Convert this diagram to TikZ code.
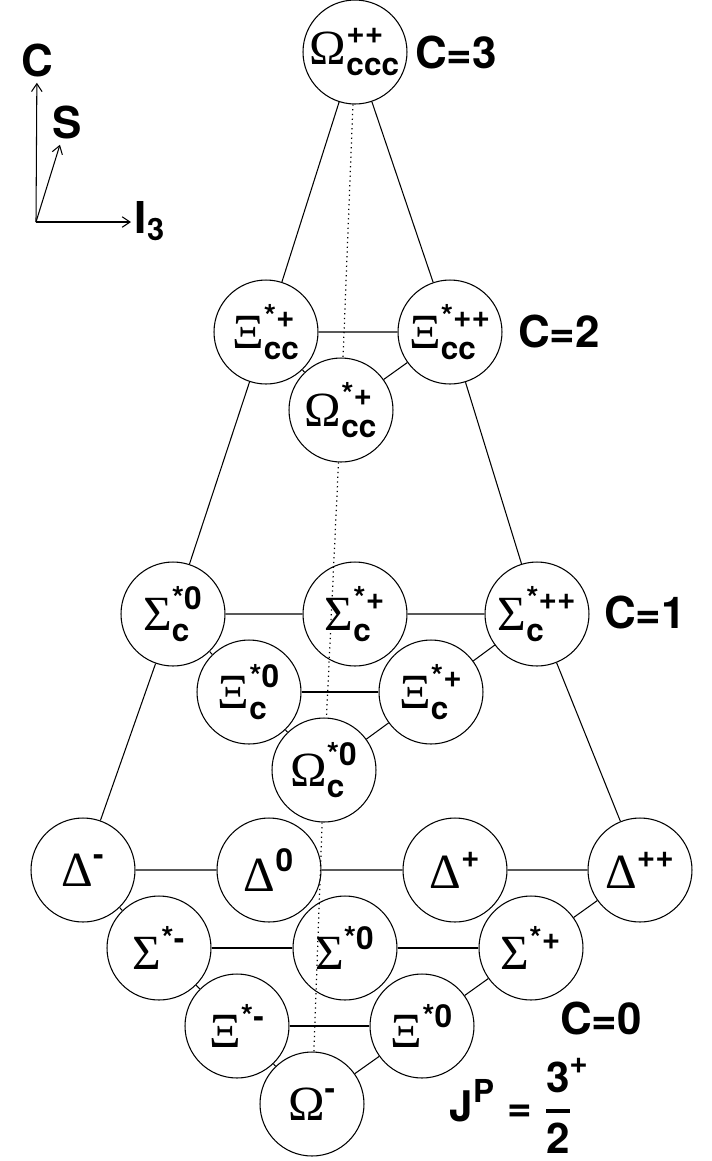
\documentclass[tikz,border=0pt]{standalone}
\usepackage{amsmath, mathtools}
\usepackage{fontspec}
\setmainfont{TeX Gyre Heros}
\newfontfamily\grk{Liberation Serif}
\DeclareMathSizes{24}{24}{18}{13}
\usetikzlibrary{arrows.meta}
\tikzset{hadron/.style={circle, draw, fill=white, line width=0.6pt, minimum size=2.08cm, inner sep=0pt, font=\fontsize{24}{28}\selectfont\bfseries}}
\tikzset{charm/.style={font=\fontsize{25}{30}\selectfont\bfseries}}
\tikzset{link/.style={line width=0.6pt}, omline/.style={line width=0.7pt, dotted}}
\tikzset{axis/.style={line width=0.6pt, -{Straight Barb[length=4.5pt,width=6pt]}}}
\newcommand{\grkl}[1]{\text{\grk\mdseries\fontsize{28}{28}\selectfont #1}}
\newcommand{\had}[3]{$\grkl{#1}^{\text{#2}}_{\text{#3}}$}
\newcommand{\hadn}[2]{$\grkl{#1}^{\text{#2}}$}

\begin{document}
\begin{tikzpicture}[x=0.02cm, y=-0.02cm]
\useasboundingbox (0,0) rectangle (711,1161);
% axes
\coordinate (origin) at (36,222);
\node[charm] (axC) at (37,60) {C};
\node[charm] (axS) at (67,122) {S};
\node[charm, anchor=base west, inner sep=2pt] (axI) at (131,233) {$\text{I}_{\text{3}}$};
\draw[axis] (origin) -- (axC);
\draw[axis] (origin) -- (axS);
\draw[axis] (origin) -- (origin -| axI.west);
% C=3
\node[hadron] (occc) at (355,52) {\had{Ω}{++}{ccc}};
\node[charm] (c3) at (456,52) {C=3};
% C=2
\node[hadron] (xiccp) at (266,332) {\had{Ξ}{*+}{cc}};
\node[hadron] (xiccpp) at (450,332) {\had{Ξ}{*++}{cc}};
\node[hadron] (omccp) at (341,410) {\had{Ω}{*+}{cc}};
\node[charm] (c2) at (559,331) {C=2};
% C=1
\node[hadron] (sczero) at (173,614) {\had{Σ}{*0}{c}};
\node[hadron] (scp) at (355,614) {\had{Σ}{*+}{c}};
\node[hadron] (scpp) at (537,614) {\had{Σ}{*++}{c}};
\node[hadron] (xiczero) at (249,692) {\had{Ξ}{*0}{c}};
\node[hadron] (xicp) at (431,692) {\had{Ξ}{*+}{c}};
\node[hadron] (omczero) at (324,770) {\had{Ω}{*0}{c}};
\node[charm] (c1) at (645,612) {C=1};
% C=0
\node[hadron] (dm) at (83,870) {\hadn{Δ}{-}};
\node[hadron] (dz) at (269,870) {\hadn{Δ}{0}};
\node[hadron] (dp) at (455,870) {\hadn{Δ}{+}};
\node[hadron] (dpp) at (640,870) {\hadn{Δ}{++}};
\node[hadron] (sm) at (159,948) {\hadn{Σ}{*-}};
\node[hadron] (sz) at (345,948) {\hadn{Σ}{*0}};
\node[hadron] (sp) at (531,948) {\hadn{Σ}{*+}};
\node[hadron] (xm) at (237,1026) {\hadn{Ξ}{*-}};
\node[hadron] (xz) at (422,1026) {\hadn{Ξ}{*0}};
\node[hadron] (om) at (312,1104) {\hadn{Ω}{-}};
\node[charm] (c0) at (601,1018) {C=0};
\node[charm, font=\fontsize{24}{28}\selectfont\bfseries, inner sep=1pt] (spin) at (511,1106) {$\text{J}^{\text{P}} \mathrel{\text{=}} \genfrac{}{}{2pt}{0}{\text{3}^{\mathrlap{\text{+}}}}{\text{2}}$};
% outer edges
\draw[link] (occc) -- (xiccp) -- (sczero) -- (dm);
\draw[link] (occc) -- (xiccpp) -- (scpp) -- (dpp);
% layers
\draw[link] (xiccp) -- (xiccpp) -- (omccp) -- (xiccp);
\draw[link] (sczero) -- (scp) -- (scpp) -- (xicp) -- (omczero) -- (xiczero) -- (sczero);
\draw[link] (xiczero) -- (xicp);
\draw[link] (dm) -- (dz) -- (dp) -- (dpp) -- (sp) -- (xz) -- (om) -- (xm) -- (sm) -- (dm);
\draw[link] (sm) -- (sz) -- (sp);
\draw[link] (xm) -- (xz);
% Omega edge
\draw[omline] (occc) -- (omccp) -- (omczero) -- (om);
\end{tikzpicture}
\end{document}
